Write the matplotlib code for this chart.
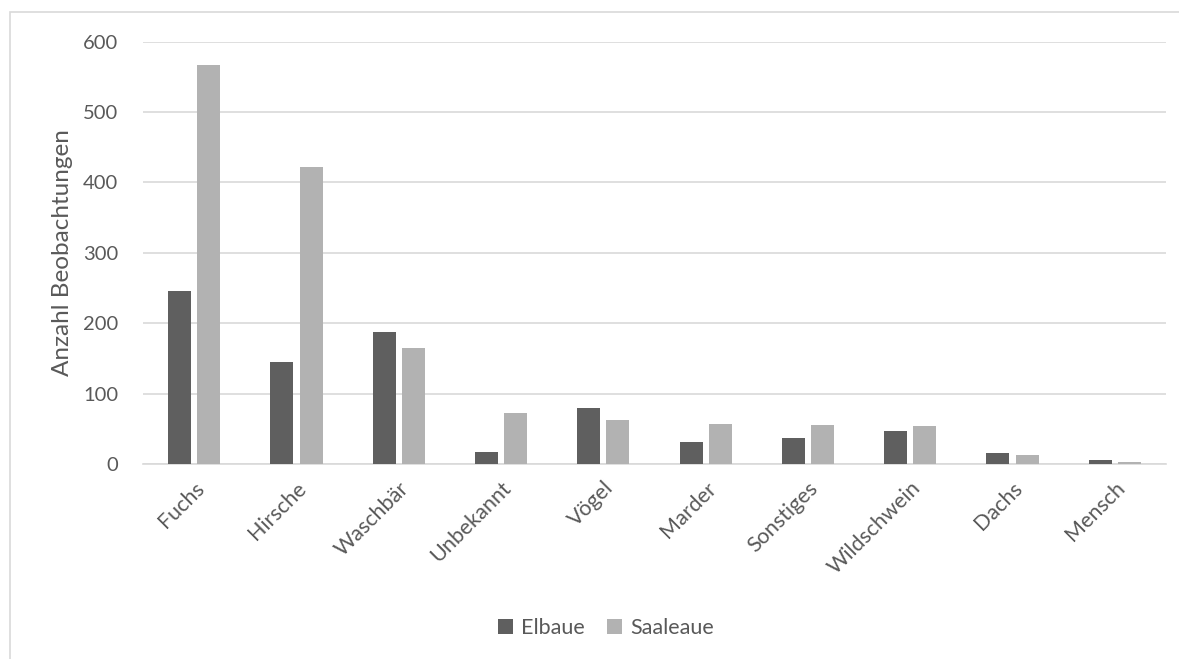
import matplotlib
matplotlib.use("Agg")
import matplotlib.pyplot as plt
from matplotlib.patches import Rectangle
import numpy as np

categories = ["Fuchs", "Hirsche", "Waschbär", "Unbekannt", "Vögel", "Marder",
              "Sonstiges", "Wildschwein", "Dachs", "Mensch"]
elbaue = [246, 145, 187, 17, 80, 31, 37, 47, 15, 5]
saaleaue = [567, 422, 165, 73, 62, 57, 55, 54, 13, 3]
yticks = [0, 100, 200, 300, 400, 500, 600]

plt.rcParams['font.family'] = ['Lato', 'DejaVu Sans']
txt = '#595959'

W, H = 1179, 659
fig = plt.figure(figsize=(W/100, H/100), dpi=100)
# outer chart border (left and top visible)
fig.patches.append(Rectangle((10/W, -0.1), 1.2, 1 - 12/H + 0.1, transform=fig.transFigure,
                             fill=False, edgecolor='#d9d9d9', linewidth=1.2))

ax = fig.add_axes([143/W, 1 - 464/H, (1166-143)/W, (464-41.7)/H])
x = np.arange(len(categories))
w = 0.225
ax.bar(x - 0.143, elbaue, w, color='#5f5f5f', label='Elbaue', zorder=3)
ax.bar(x + 0.143, saaleaue, w, color='#b2b2b2', label='Saaleaue', zorder=3)

ax.set_xlim(-0.5, len(categories) - 0.5)
ax.set_ylim(0, 600)
ax.set_yticks(yticks)
ax.set_yticklabels([str(v) for v in yticks], fontsize=14.5, color=txt)
ax.yaxis.grid(True, color='#d9d9d9', linewidth=1.2, zorder=0)
ax.set_xticks(x)
ax.set_xticklabels(categories, rotation=45, ha='right', rotation_mode='anchor',
                   fontsize=15.5, color=txt)
ax.tick_params(axis='both', length=0)
ax.tick_params(axis='y', pad=18)
ax.tick_params(axis='x', pad=10)
for s in ['top', 'right', 'left']:
    ax.spines[s].set_visible(False)
ax.spines['bottom'].set_color('#d9d9d9')
ax.spines['bottom'].set_linewidth(1.2)
ax.set_ylabel('Anzahl Beobachtungen', fontsize=17.5, color=txt)
ax.yaxis.set_label_coords(73/W, 1 - 253/H, transform=fig.transFigure)

leg = fig.legend(loc='center', bbox_to_anchor=(606/W, 1 - 628/H), ncol=2, frameon=False,
                 fontsize=15.5, handlelength=0.7, handleheight=0.7, columnspacing=1.0,
                 handletextpad=0.4)
for t in leg.get_texts():
    t.set_color(txt)

fig.savefig('out.png', dpi=100)
